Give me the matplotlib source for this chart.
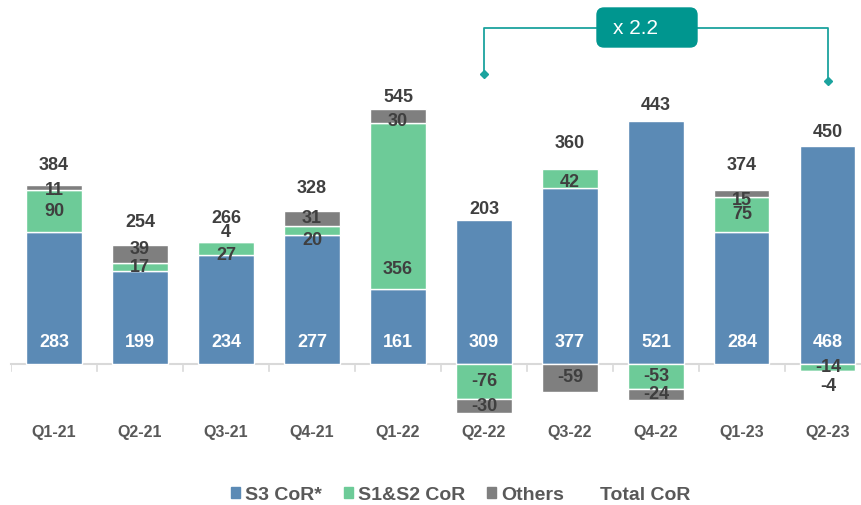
import matplotlib
matplotlib.use("Agg")
import matplotlib.pyplot as plt
from matplotlib.patches import Patch, FancyBboxPatch
from matplotlib.transforms import IdentityTransform
import numpy as np

quarters = ["Q1-21", "Q2-21", "Q3-21", "Q4-21", "Q1-22",
            "Q2-22", "Q3-22", "Q4-22", "Q1-23", "Q2-23"]
s3_cor = [283, 199, 234, 277, 161, 309, 377, 521, 284, 468]
s12_cor = [90, 17, 27, 20, 356, -76, 42, -53, 75, -14]
others = [11, 39, 4, 31, 30, -30, -59, -24, 15, -4]
total_cor = [384, 254, 266, 328, 545, 203, 360, 443, 374, 450]
growth_label = "x 2.2"

BLUE = "#5b8ab5"
GREEN = "#6dcb98"
GREY = "#7f7f7f"
TEAL = "#00968f"
DARK = "#3f3f3f"

# label nudges in px (positive = down), just to untangle the thin segments
total_gap = [20, 23, 22, 23, 12, 11, 25, 16, 24, 13]
nudge = {("s12", 2): 7, ("oth", 2): -9, ("s12", 3): 10, ("oth", 1): -5,
         ("oth", 0): 3, ("oth", 8): 7, ("s12", 6): 4, ("oth", 9): 15,
         ("oth", 4): 5, ("s12", 4): 63}

plt.rcParams["font.family"] = ["Liberation Sans", "DejaVu Sans"]
plt.rcParams["font.weight"] = "bold"

fig = plt.figure(figsize=(8.61, 5.05), dpi=100)
ax = fig.add_axes([11 / 861, 65 / 505, 850 / 861, 440 / 505])
ax.set_xlim(-0.5, 9.384)
ax.set_ylim(-163, 781)
ax.axis("off")

x = np.arange(len(quarters))
w = 0.64
px = 440 / 944  # px per data unit

for i in x:
    pos_base, neg_base = 0.0, 0.0
    segs = [("s3", s3_cor[i], BLUE), ("s12", s12_cor[i], GREEN), ("oth", others[i], GREY)]
    top = 0.0
    for key, v, col in segs:
        if v >= 0:
            b = pos_base; pos_base += v; top = pos_base
        else:
            b = neg_base; neg_base += v
        ax.bar(i, v, w, bottom=b, color=col, edgecolor="white", linewidth=1, zorder=2)
        if key == "s3":
            ax.text(i, 22 / px, f"{v}", ha="center", va="center", color="white",
                    fontsize=13, fontweight="bold", zorder=4)
        else:
            yc = b + v / 2 - nudge.get((key, i), 0) / px
            ax.text(i, yc, f"{v}", ha="center", va="center", color=DARK,
                    fontsize=13, fontweight="bold", zorder=4)
    ax.text(i, top + total_gap[i] / px, f"{total_cor[i]}", ha="center", va="center",
            color=DARK, fontsize=13, fontweight="bold")
    ax.text(i, -68 / px, quarters[i], ha="center", va="center", color="#595959",
            fontsize=11.5, fontweight="bold")

# zero axis with boundary ticks
ax.plot([-0.5, 9.5], [0, 0], color="#d9d9d9", lw=1.5, zorder=1, clip_on=False)
for b in np.arange(-0.5, 9.5, 1.0):
    ax.plot([b, b], [0, -7 / px], color="#d9d9d9", lw=1.2, zorder=1)

# growth bracket Q2-22 -> Q2-23
xa, xb = 5, 9
yh = (364 - 28) / px
ax.plot([xa, xa, 6.3], [(364 - 74) / px, yh, yh], color="#1ba39e", lw=1.3)
ax.plot([7.48, xb, xb], [yh, yh, (364 - 81) / px], color="#1ba39e", lw=1.3)
ax.plot([xa], [(364 - 74) / px], marker="D", ms=4.5, color="#1ba39e")
ax.plot([xb], [(364 - 81) / px], marker="D", ms=4.5, color="#1ba39e")
box = FancyBboxPatch((597, 505 - 47), 100, 39,
                     boxstyle="round,pad=0,rounding_size=7",
                     transform=IdentityTransform(),
                     facecolor=TEAL, edgecolor=TEAL, zorder=5)
fig.add_artist(box)
fig.text(613 / 861, 1 - 28 / 505, growth_label, ha="left", va="center", color="white",
         fontsize=15, fontweight="normal", zorder=6)

handles = [Patch(color=BLUE), Patch(color=GREEN), Patch(color=GREY),
           Patch(facecolor="none", edgecolor="none")]
fig.legend(handles, ["S3 CoR*", "S1&S2 CoR", "Others", "Total CoR"],
           loc="center", bbox_to_anchor=(0.535, 10 / 505), ncol=4, frameon=False,
           handlelength=0.45, handleheight=0.45, handletextpad=0.25,
           columnspacing=1.15, prop={"size": 14, "weight": "bold"}, labelcolor="#595959")

fig.savefig("out.png", dpi=100)
